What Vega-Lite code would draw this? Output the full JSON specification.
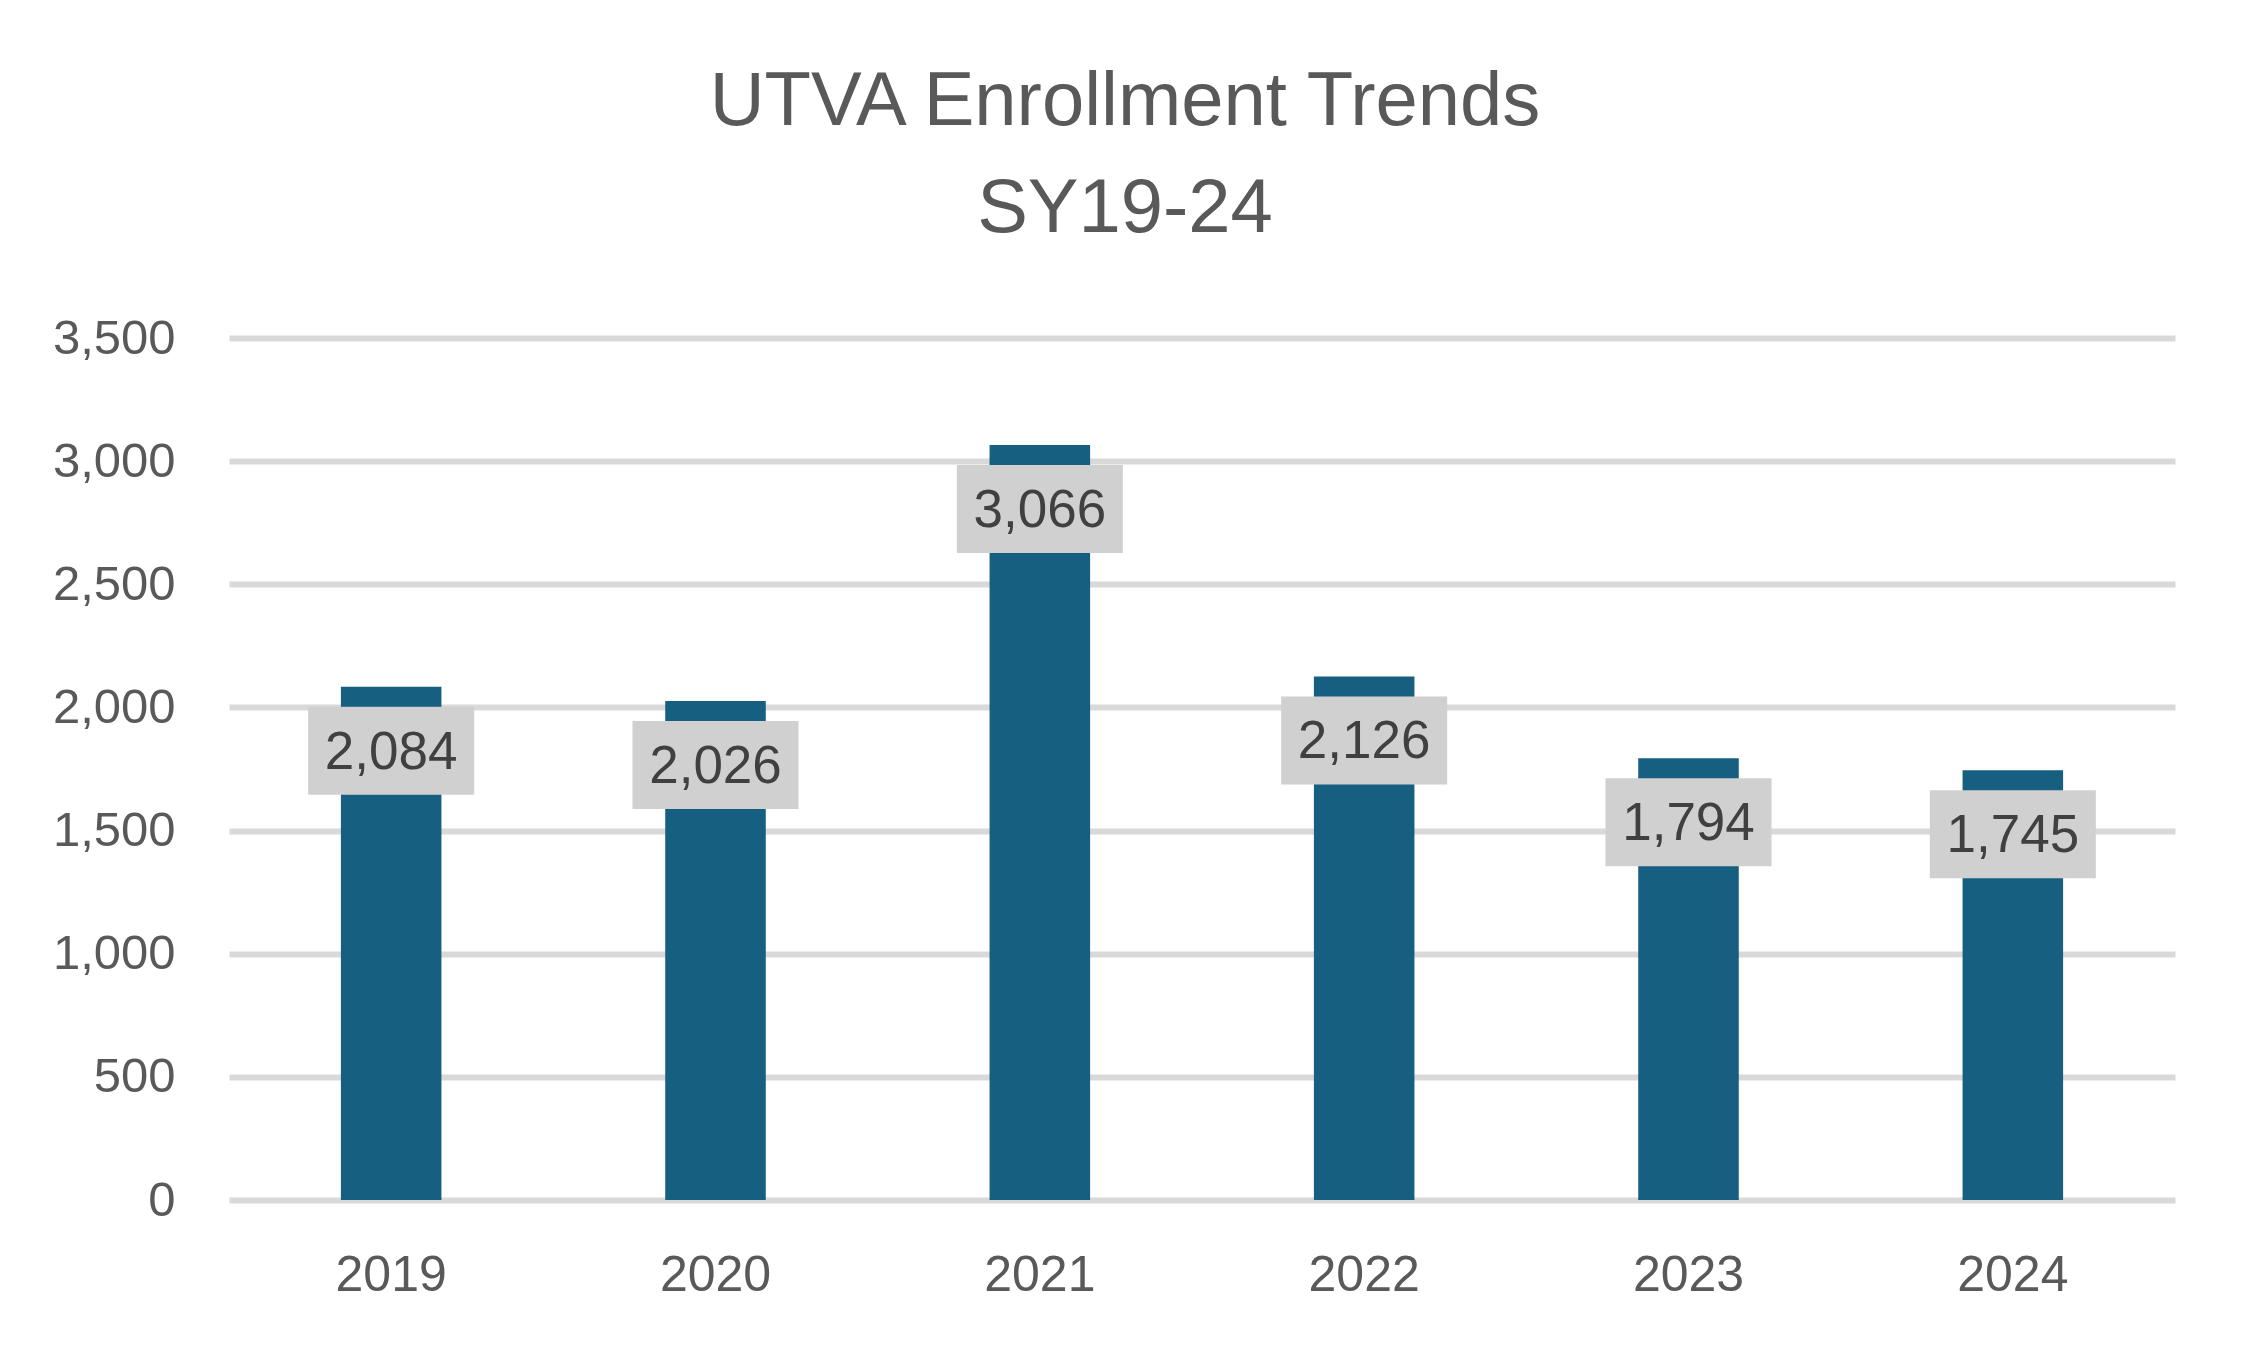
{
  "$schema": "https://vega.github.io/schema/vega-lite/v6.json",
  "width": 1946,
  "height": 862,
  "autosize": {"type": "none"},
  "padding": {"left": 229, "top": 338, "right": 69, "bottom": 147},
  "background": "white",
  "config": {"view": {"stroke": null}, "font": "Liberation Sans"},
  "title": {
    "text": ["UTVA Enrollment Trends", "SY19-24"],
    "fontSize": 76,
    "fontWeight": "normal",
    "color": "#595959",
    "lineHeight": 107,
    "offset": 66,
    "anchor": "middle",
    "dx": -77,
    "font": "Liberation Sans"
  },
  "data": {
    "values": [
      {"year": "2019", "enrollment": 2084},
      {"year": "2020", "enrollment": 2026},
      {"year": "2021", "enrollment": 3066},
      {"year": "2022", "enrollment": 2126},
      {"year": "2023", "enrollment": 1794},
      {"year": "2024", "enrollment": 1745}
    ]
  },
  "encoding": {
    "x": {
      "field": "year",
      "type": "ordinal",
      "sort": null,
      "scale": {"paddingInner": 0.69, "paddingOuter": 0.345},
      "axis": {
        "title": null,
        "labelAngle": 0,
        "domain": false,
        "ticks": false,
        "tickSize": 0,
        "labelPadding": 50,
        "labelFontSize": 50,
        "labelColor": "#595959",
        "labelFont": "Liberation Sans"
      }
    },
    "y": {
      "field": "enrollment",
      "type": "quantitative",
      "scale": {"domain": [0, 3500], "nice": false},
      "axis": {
        "title": null,
        "values": [0, 500, 1000, 1500, 2000, 2500, 3000, 3500],
        "format": ",.0f",
        "domain": false,
        "ticks": false,
        "tickSize": 0,
        "labelPadding": 54,
        "labelFontSize": 49,
        "labelColor": "#595959",
        "labelFont": "Liberation Sans",
        "grid": true,
        "gridColor": "#d9d9d9",
        "gridWidth": 6
      }
    }
  },
  "layer": [
    {"mark": {"type": "bar", "color": "#165f80"}},
    {
      "mark": {
        "type": "point",
        "shape": "M-1,-0.53H1V0.53H-1Z",
        "size": 27556,
        "filled": true,
        "color": "#d0d0d0",
        "opacity": 1,
        "yOffset": 64
      }
    },
    {
      "mark": {
        "type": "text",
        "yOffset": 66,
        "fontSize": 53,
        "color": "#404040",
        "baseline": "middle",
        "font": "Liberation Sans"
      },
      "encoding": {"text": {"field": "enrollment", "type": "quantitative", "format": ","}}
    }
  ]
}
